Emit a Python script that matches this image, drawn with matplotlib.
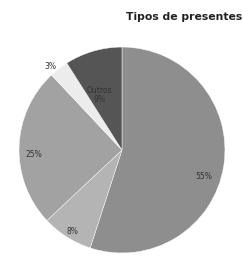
import matplotlib
matplotlib.use("Agg")
import matplotlib.pyplot as plt
import numpy as np

labels = ["55%", "8%", "25%", "3%", "Outros\n9%"]
values = [55, 8, 25, 3, 9]
colors = ["#8e8e8e", "#b4b4b4", "#a2a2a2", "#ececec", "#555555"]
label_r = [0.84, 0.93, 0.86, 1.07, 0.58]
label_shift = [-9, 1, 5, 3, 6]  # degrees

fig = plt.figure(figsize=(2.43, 2.6), dpi=100)
ax = fig.add_axes([0.078, 0.027, 0.848, 0.792])

wedges, _ = ax.pie(values, colors=colors, startangle=90, counterclock=False,
                   wedgeprops=dict(edgecolor="white", linewidth=0.3))

for w, lab, r, s in zip(wedges, labels, label_r, label_shift):
    ang = np.deg2rad((w.theta1 + w.theta2) / 2 + s)
    ax.text(r * np.cos(ang), r * np.sin(ang), lab, ha="center", va="center",
            fontsize=5.5, color="#333333", linespacing=1.0)

ax.set_xlim(-1, 1)
ax.set_ylim(-1, 1)
ax.set_aspect("equal")

fig.text(0.996, 0.935, "Tipos de presentes", fontsize=7.8, fontweight="bold",
         color="#222222", ha="right", va="center")

fig.savefig("out.png", dpi=100, facecolor="white")
